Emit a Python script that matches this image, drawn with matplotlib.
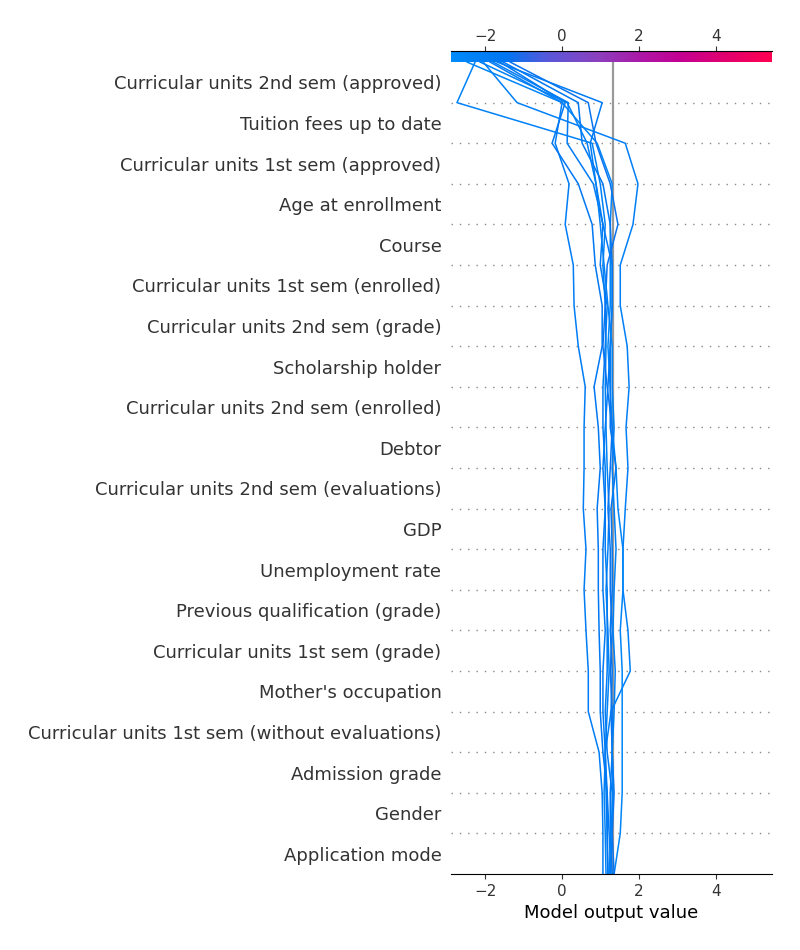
import numpy as np
import matplotlib
matplotlib.use("Agg")
import matplotlib.pyplot as plt
from matplotlib.colors import LinearSegmentedColormap, Normalize

# features, top to bottom as shown
features = [
    "Curricular units 2nd sem (approved)",
    "Tuition fees up to date",
    "Curricular units 1st sem (approved)",
    "Age at enrollment",
    "Course",
    "Curricular units 1st sem (enrolled)",
    "Curricular units 2nd sem (grade)",
    "Scholarship holder",
    "Curricular units 2nd sem (enrolled)",
    "Debtor",
    "Curricular units 2nd sem (evaluations)",
    "GDP",
    "Unemployment rate",
    "Previous qualification (grade)",
    "Curricular units 1st sem (grade)",
    "Mother's occupation",
    "Curricular units 1st sem (without evaluations)",
    "Admission grade",
    "Gender",
    "Application mode",
]

base_value = 1.32

# cumulative model output, from the bottom (level 0) to the top (level 20)
obs_a = [1.19, 1.17, 1.14, 1.12, 1.27, 1.77, 1.71, 1.58, 1.58, 1.64, 1.71, 1.66, 1.74, 1.69, 1.51, 1.51, 1.84, 1.97, 1.64, -1.17, -2.05]
obs_b = [1.35, 1.51, 1.56, 1.56, 1.56, 1.56, 1.51, 1.58, 1.58, 1.45, 1.40, 1.30, 1.25, 1.19, 1.25, 1.25, 1.25, 1.30, 0.91, 0.00, -2.47]
obs_c = [1.14, 1.12, 1.09, 1.12, 1.17, 1.22, 1.19, 1.14, 1.19, 1.22, 1.17, 1.14, 1.12, 1.14, 1.12, 1.06, 1.12, 0.99, 0.78, -2.73, -2.26]
obs_d = [1.06, 1.06, 1.04, 0.96, 0.68, 0.68, 0.62, 0.57, 0.62, 0.55, 0.57, 0.57, 0.60, 0.42, 0.31, 0.29, 0.08, 0.18, -0.18, 0.00, -1.87]
obs_e = [1.19, 1.17, 1.17, 1.06, 0.99, 0.99, 0.96, 0.94, 0.94, 0.91, 0.99, 0.94, 0.83, 1.04, 1.04, 0.86, 0.78, 0.42, -0.26, 0.08, -1.61]
obs_f = [1.25, 1.30, 1.30, 1.17, 1.12, 1.17, 1.17, 1.17, 1.12, 1.12, 1.12, 1.06, 1.06, 1.12, 1.17, 0.99, 1.06, 0.81, 0.13, 0.16, -1.79]
obs_g = [1.30, 1.25, 1.25, 1.30, 1.27, 1.30, 1.25, 1.30, 1.30, 1.27, 1.40, 1.25, 1.25, 1.25, 1.30, 1.30, 1.25, 1.06, 0.52, 0.42, -1.53]
obs_h = [1.35, 1.30, 1.35, 1.30, 1.30, 1.25, 1.30, 1.25, 1.25, 1.19, 1.25, 1.30, 1.17, 1.06, 1.12, 1.17, 1.45, 1.25, 0.88, 0.68, -1.35]
obs_i = [1.27, 1.22, 1.17, 1.12, 1.06, 1.06, 1.12, 1.06, 1.06, 1.12, 1.06, 1.12, 1.19, 1.25, 1.30, 1.30, 1.06, 0.88, 0.73, 1.04, -1.69]
obs_j = [1.22, 1.27, 1.32, 1.30, 1.35, 1.38, 1.32, 1.35, 1.40, 1.35, 1.30, 1.35, 1.30, 1.30, 1.19, 1.09, 0.99, 0.88, 0.65, 0.13, -2.13]
observations = [obs_a, obs_b, obs_c, obs_d, obs_e, obs_f, obs_g, obs_h, obs_i, obs_j]

xlim = (-2.88, 5.45)
xticks = [-2, 0, 2, 4]

# shap-like red/blue map
red_blue = LinearSegmentedColormap.from_list("red_blue", [
    (0.0, "#008bfb"), (0.17, "#0076f2"), (0.3, "#5858da"), (0.45, "#8a42c0"),
    (0.6, "#ae16a6"), (0.72, "#c40092"), (0.86, "#e3006e"), (1.0, "#ff0052")])
norm = Normalize(*xlim)

plt.rcParams["lines.scale_dashes"] = False
fig = plt.figure(figsize=(8, 9.5), dpi=100)
ax = fig.add_axes([0.564, 0.08, 0.401, 0.8547])
cax = fig.add_axes([0.564, 0.9347, 0.401, 0.0116])

n = len(features)
y_pos = np.arange(n + 1)

for i in range(1, n):
    ax.axhline(i, color="#888888", lw=1.0, dashes=(1, 5), zorder=-1)

ax.axvline(base_value, color="#999999", lw=1.6, zorder=1)

for obs in observations:
    ax.plot(obs, y_pos, color=red_blue(norm(obs[-1])), lw=1.1, zorder=2)

ax.set_xlim(*xlim)
ax.set_ylim(0, n)
ax.set_yticks(np.arange(n) + 0.5)
ax.set_yticklabels(features[::-1], fontsize=13, color="#333333")
ax.tick_params(axis="y", length=0, pad=7)
ax.set_xticks(xticks)
ax.tick_params(axis="x", labelsize=11, labelcolor="#333333", color="#333333")
ax.set_xlabel("Model output value", fontsize=13)
for s in ["left", "right", "top"]:
    ax.spines[s].set_visible(False)

# colour bar on top
grad = np.linspace(0, 1, 256).reshape(1, -1)
cax.imshow(grad, aspect="auto", cmap=red_blue, extent=(xlim[0], xlim[1], 0, 1))
cax.set_xlim(*xlim)
cax.set_yticks([])
cax.set_xticks(xticks)
cax.xaxis.tick_top()
cax.tick_params(axis="x", labelsize=11, labelcolor="#333333", color="#333333", pad=1.5)
for s in ["left", "right", "bottom"]:
    cax.spines[s].set_visible(False)

fig.savefig("out.png", dpi=100)
